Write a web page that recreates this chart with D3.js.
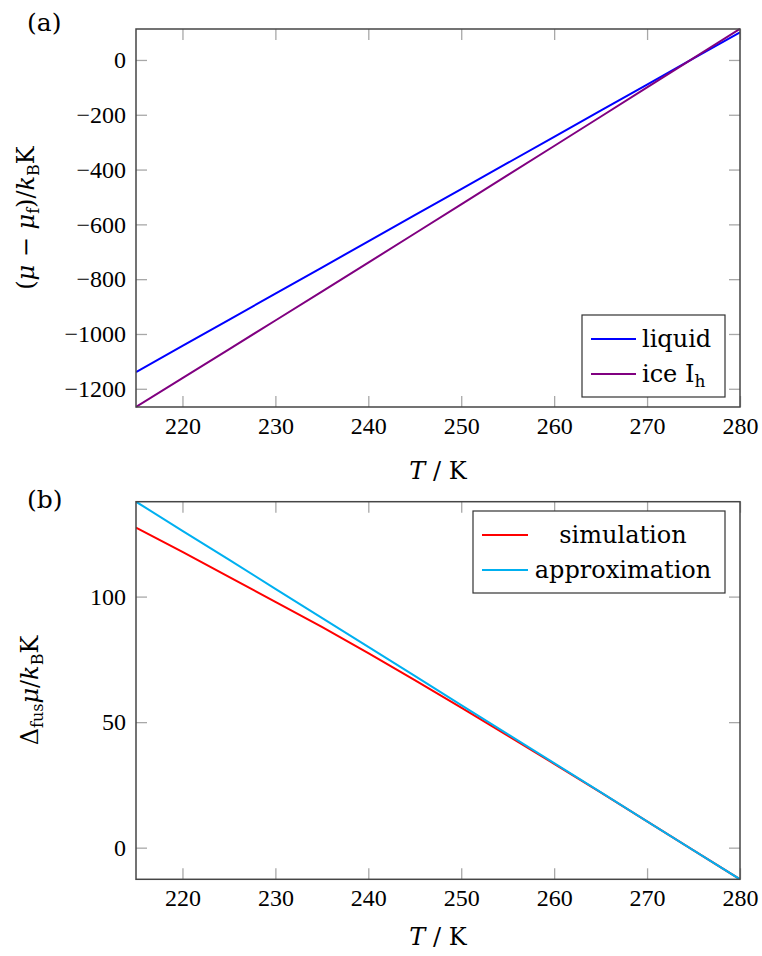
<!DOCTYPE html>
<html>
<head>
<meta charset="utf-8">
<script src="https://cdn.jsdelivr.net/npm/d3@7"></script>
<style>
  html, body { margin: 0; padding: 0; background: #fff; }
  svg { display: block; }
  text { fill: #000; }
</style>
</head>
<body>
<svg id="chart" width="762" height="956"></svg>
<script>
// Temperatures (K)
const temperatures = [215, 220, 225, 230, 235, 240, 245, 250, 255, 260, 265, 270, 275, 280];

// Panel (a): chemical potential relative to fusion, in units of k_B K
const liquidMu = [-1139, -1043.6, -948.2, -852.9, -757.5, -662.1, -566.7, -471.3, -375.9, -280.6, -185.2, -89.8, 5.6, 101];
const iceMu = [-1266.5, -1161.4, -1056.1, -950.8, -845.4, -739.6, -633.4, -527.1, -420.5, -314.0, -207.2, -100.3, 6.7, 113.6];

// Panel (b): fusion chemical potential difference
const simulationDmu = [127.5, 117.8, 107.9, 97.9, 87.9, 77.5, 66.7, 55.8, 44.6, 33.4, 22.0, 10.5, -1.1, -12.6];
const approximationDmu = [137.8, 126.2, 114.7, 103.1, 91.5, 80.0, 68.4, 56.8, 45.2, 33.7, 22.1, 10.5, -1.1, -12.6];

// Tick values
const xTicks = [220, 230, 240, 250, 260, 270, 280];
const yTicksA = [0, -200, -400, -600, -800, -1000, -1200];
const yTicksB = [0, 50, 100];

const svg = d3.select("#chart");
const tickFont = "'Liberation Serif', serif";
const textFont = "'DejaVu Serif', serif";
const frameColor = "#454545";
const tickColor = "#a8a8a8";

function drawPanel(opts) {
  const { top, bottom, left, right, yDomain, yTicks, series, legend, tag, tagY, yLabel, yLabelX, xLabelY } = opts;
  const x = d3.scaleLinear().domain([215, 280]).range([left, right]);
  const y = d3.scaleLinear().domain(yDomain).range([bottom, top]);
  const g = svg.append("g");

  // Inward ticks on all four sides
  const mk = (axis, tx, ty, vals, labels) => {
    const a = g.append("g").attr("transform", `translate(${tx},${ty})`)
      .call(axis.tickValues(vals).tickSizeInner(-11).tickSizeOuter(0).tickPadding(labels ? 10 : 0)
        .tickFormat(labels ? d3.format("") : () => ""));
    a.attr("font-family", tickFont).attr("font-size", 24);
    a.select(".domain").remove();
    a.selectAll(".tick line").attr("stroke", tickColor).attr("stroke-width", 1.3);
    a.selectAll(".tick text").attr("fill", "#000");
    return a;
  };
  mk(d3.axisBottom(x), 0, bottom, xTicks, true);
  mk(d3.axisTop(x), 0, top, xTicks, false);
  mk(d3.axisLeft(y), left, 0, yTicks, true);
  mk(d3.axisRight(y), right, 0, yTicks, false);

  // Data lines
  const clipId = "clip-" + tag.replace(/\W/g, "");
  g.append("clipPath").attr("id", clipId).append("rect")
    .attr("x", left).attr("y", top - 1).attr("width", right - left).attr("height", bottom - top + 2);
  series.forEach(s => {
    const line = d3.line().x((d, i) => x(temperatures[i])).y(d => y(d));
    g.append("path").datum(s.values)
      .attr("clip-path", `url(#${clipId})`)
      .attr("fill", "none").attr("stroke", s.color).attr("stroke-width", 2)
      .attr("d", line);
  });

  // Frame
  g.append("rect").attr("x", left).attr("y", top).attr("width", right - left).attr("height", bottom - top)
    .attr("fill", "none").attr("stroke", frameColor).attr("stroke-width", 1.5);

  // Legend
  const lg = g.append("g");
  lg.append("rect").attr("x", legend.x0).attr("y", legend.y0)
    .attr("width", legend.x1 - legend.x0).attr("height", legend.y1 - legend.y0)
    .attr("fill", "#fff").attr("stroke", "#333").attr("stroke-width", 1.2);
  series.forEach((s, i) => {
    const ry = legend.rows[i];
    lg.append("line").attr("x1", legend.lx0).attr("x2", legend.lx1).attr("y1", ry).attr("y2", ry)
      .attr("stroke", s.color).attr("stroke-width", 2);
    const t = lg.append("text").attr("x", legend.tx).attr("y", ry + 8)
      .attr("font-family", textFont).attr("font-size", 24).attr("text-anchor", legend.anchor);
    s.label(t);
  });

  // Panel tag
  g.append("text").attr("x", 27).attr("y", tagY).attr("font-family", textFont).attr("font-size", 25).text(tag);

  // X label
  const xl = g.append("text").attr("x", (left + right) / 2).attr("y", xLabelY)
    .attr("text-anchor", "middle").attr("font-family", textFont).attr("font-size", 24);
  xl.append("tspan").attr("font-style", "italic").text("T");
  xl.append("tspan").text(" / K");

  // Y label
  const yl = g.append("text")
    .attr("transform", `translate(${yLabelX},${(top + bottom) / 2}) rotate(-90)`)
    .attr("text-anchor", "middle").attr("font-family", textFont).attr("font-size", 24);
  yLabel(yl);
}

// Panel (a)
drawPanel({
  top: 29, bottom: 407, left: 136, right: 740,
  yDomain: [-1266.5, 113], yTicks: yTicksA,
  tag: "(a)", tagY: 31, xLabelY: 479, yLabelX: 34,
  series: [
    { values: liquidMu, color: "#0000ff", label: t => t.text("liquid") },
    { values: iceMu, color: "#800080", label: t => {
        t.append("tspan").text("ice I");
        t.append("tspan").attr("font-size", 17).attr("dy", 5).text("h");
      } }
  ],
  legend: { x0: 582, x1: 725, y0: 315, y1: 397, rows: [339, 374], lx0: 591, lx1: 636, tx: 642, anchor: "start" },
  yLabel: t => {
    t.append("tspan").text("(");
    t.append("tspan").attr("font-style", "italic").text("μ");
    t.append("tspan").text(" − ");
    t.append("tspan").attr("font-style", "italic").text("μ");
    t.append("tspan").attr("font-size", 16).attr("dy", 5).text("f");
    t.append("tspan").attr("dy", -5).text(")/");
    t.append("tspan").attr("font-style", "italic").text("k");
    t.append("tspan").attr("font-size", 16).attr("dy", 5).text("B");
    t.append("tspan").attr("dy", -5).text("K");
  }
});

// Panel (b)
drawPanel({
  top: 501.7, bottom: 879.3, left: 136, right: 740,
  yDomain: [-12.6, 137.8], yTicks: yTicksB,
  tag: "(b)", tagY: 508, xLabelY: 945, yLabelX: 38,
  series: [
    { values: simulationDmu, color: "#ff0000", label: t => t.text("simulation") },
    { values: approximationDmu, color: "#00b0f0", label: t => t.text("approximation") }
  ],
  legend: { x0: 473, x1: 725, y0: 511, y1: 593, rows: [535, 570], lx0: 482, lx1: 528, tx: 623, anchor: "middle" },
  yLabel: t => {
    t.append("tspan").text("Δ");
    t.append("tspan").attr("font-size", 16).attr("dy", 5).text("fus");
    t.append("tspan").attr("dy", -5).attr("font-style", "italic").text("μ");
    t.append("tspan").text("/");
    t.append("tspan").attr("font-style", "italic").text("k");
    t.append("tspan").attr("font-size", 16).attr("dy", 5).text("B");
    t.append("tspan").attr("dy", -5).text("K");
  }
});
</script>
</body>
</html>
